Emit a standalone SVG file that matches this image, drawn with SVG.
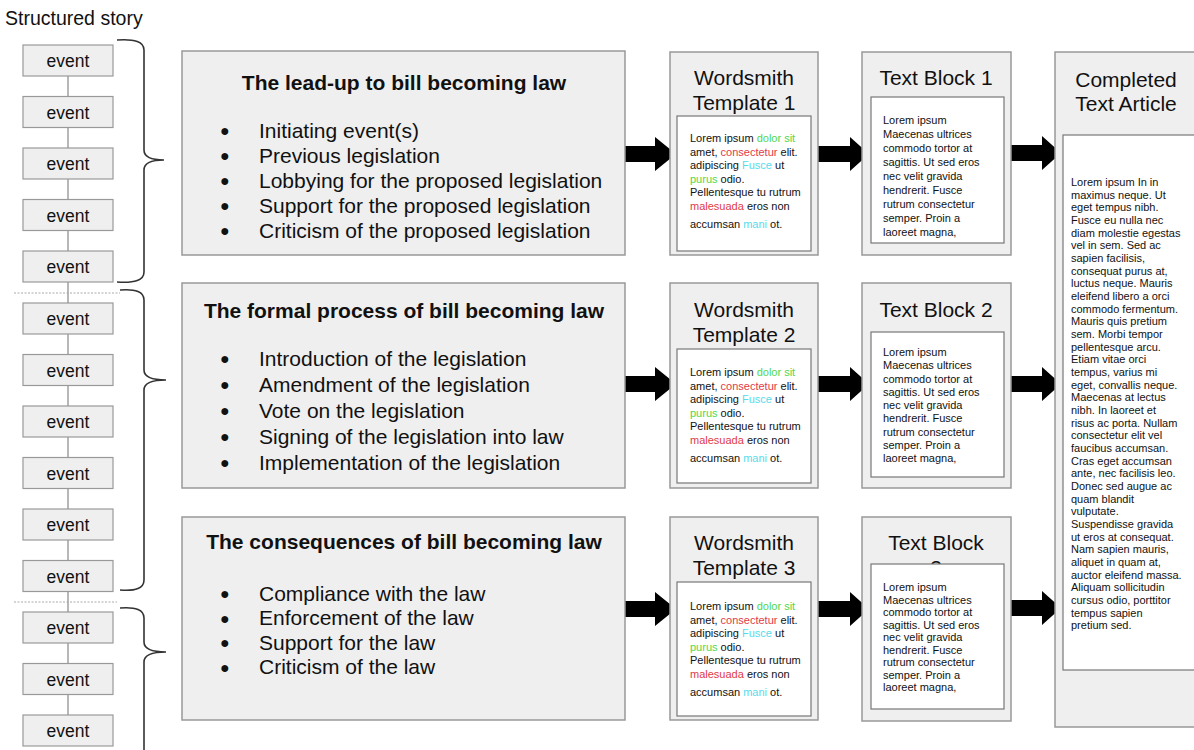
<svg xmlns="http://www.w3.org/2000/svg" width="1194" height="750" viewBox="0 0 1194 750">
<style>
text{font-family:"Liberation Sans",Arial,sans-serif;fill:#111}
.box{fill:#efefef;stroke:#999;stroke-width:1.5}
.inner{fill:#fff;stroke:#777;stroke-width:1.2}
.ev{fill:#efefef;stroke:#999;stroke-width:1.2}
.evt{font-size:17.5px;text-anchor:middle}
.ttl{font-size:21px;font-weight:bold;text-anchor:middle}
.item{font-size:21px}
.bul{font-size:16px}
.hd{font-size:21px;text-anchor:middle}
.sm{font-size:11px}
.g{fill:#4fd84f}.r{fill:#e23a48}.c{fill:#55dcec}
.brace{fill:none;stroke:#333;stroke-width:1.6}
.link{stroke:#888;stroke-width:1.2}
.dot{stroke:#aaa;stroke-width:1;stroke-dasharray:2 1.5}
.arrow{fill:#000}
</style>
<text x="5" y="25" style="font-size:19.5px">Structured story</text>

<g id="connectors">
<line class="link" x1="68" y1="60" x2="68" y2="730"/>
<line class="dot" x1="14" y1="293" x2="120" y2="293"/>
<line class="dot" x1="14" y1="602" x2="117" y2="602"/>
<path class="brace" d="M117,40 Q144,38 144,50 L144,150 Q144,160 164,160 Q144,160 144,170 L144,272 Q144,284 117,282"/>
<path class="brace" d="M120,290 Q144,288 144,300 L144,370 Q144,380 166,380 Q144,380 144,390 L144,580 Q144,592 120,590"/>
<path class="brace" d="M120,608 Q144,606 144,618 L144,642 Q144,652 166,652 Q144,652 144,662 L144,760"/>
<polygon class="arrow" points="625,146 655,146 655,137 676,154 655,171 655,162 625,162"/>
<polygon class="arrow" points="818,146 850,146 850,137 869,154 850,171 850,162 818,162"/>
<polygon class="arrow" points="1010,145 1042,145 1042,136 1061,153 1042,170 1042,161 1010,161"/>
<polygon class="arrow" points="625,376 655,376 655,367 676,384 655,401 655,392 625,392"/>
<polygon class="arrow" points="818,376 850,376 850,367 869,384 850,401 850,392 818,392"/>
<polygon class="arrow" points="1010,376 1042,376 1042,367 1061,384 1042,401 1042,392 1010,392"/>
<polygon class="arrow" points="625,601 655,601 655,592 676,609 655,626 655,617 625,617"/>
<polygon class="arrow" points="818,601 850,601 850,592 869,609 850,626 850,617 818,617"/>
<polygon class="arrow" points="1010,600 1042,600 1042,591 1061,608 1042,625 1042,616 1010,616"/>
</g>

<g id="events">
<g id="ev1"><rect class="ev" x="23" y="45" width="90" height="31"/><text class="evt" x="68" y="67">event</text></g>
<g id="ev2"><rect class="ev" x="23" y="96.5" width="90" height="31"/><text class="evt" x="68" y="118.5">event</text></g>
<g id="ev3"><rect class="ev" x="23" y="148" width="90" height="31"/><text class="evt" x="68" y="170">event</text></g>
<g id="ev4"><rect class="ev" x="23" y="199.5" width="90" height="31"/><text class="evt" x="68" y="221.5">event</text></g>
<g id="ev5"><rect class="ev" x="23" y="251" width="90" height="31"/><text class="evt" x="68" y="273">event</text></g>
<g id="ev6"><rect class="ev" x="23" y="303" width="90" height="31"/><text class="evt" x="68" y="325">event</text></g>
<g id="ev7"><rect class="ev" x="23" y="354.5" width="90" height="31"/><text class="evt" x="68" y="376.5">event</text></g>
<g id="ev8"><rect class="ev" x="23" y="406" width="90" height="31"/><text class="evt" x="68" y="428">event</text></g>
<g id="ev9"><rect class="ev" x="23" y="457.5" width="90" height="31"/><text class="evt" x="68" y="479.5">event</text></g>
<g id="ev10"><rect class="ev" x="23" y="509" width="90" height="31"/><text class="evt" x="68" y="531">event</text></g>
<g id="ev11"><rect class="ev" x="23" y="560.5" width="90" height="31"/><text class="evt" x="68" y="582.5">event</text></g>
<g id="ev12"><rect class="ev" x="23" y="612" width="90" height="31"/><text class="evt" x="68" y="634">event</text></g>
<g id="ev13"><rect class="ev" x="23" y="663.5" width="90" height="31"/><text class="evt" x="68" y="685.5">event</text></g>
<g id="ev14"><rect class="ev" x="23" y="715" width="90" height="31"/><text class="evt" x="68" y="737">event</text></g>
</g>

<g id="section1">
<rect class="box" x="182" y="51" width="443" height="204"/>
<text class="ttl" x="404" y="90">The lead-up to bill becoming law</text>
<g class="bul">
<text x="220" y="136">●</text><text x="220" y="161">●</text><text x="220" y="186">●</text><text x="220" y="211">●</text><text x="220" y="236">●</text>
</g>
<g class="item">
<text x="259" y="137.5">Initiating event(s)</text>
<text x="259" y="162.5">Previous legislation</text>
<text x="259" y="187.5">Lobbying for the proposed legislation</text>
<text x="259" y="212.5">Support for the proposed legislation</text>
<text x="259" y="237.5">Criticism of the proposed legislation</text>
</g>
</g>

<g id="section2">
<rect class="box" x="182" y="283" width="443" height="205"/>
<text class="ttl" x="404" y="318">The formal process of bill becoming law</text>
<g class="bul">
<text x="220" y="364">●</text><text x="220" y="390">●</text><text x="220" y="416">●</text><text x="220" y="442">●</text><text x="220" y="468">●</text>
</g>
<g class="item">
<text x="259" y="365.5">Introduction of the legislation</text>
<text x="259" y="391.5">Amendment of the legislation</text>
<text x="259" y="417.5">Vote on the legislation</text>
<text x="259" y="443.5">Signing of the legislation into law</text>
<text x="259" y="469.5">Implementation of the legislation</text>
</g>
</g>

<g id="section3">
<rect class="box" x="182" y="517" width="443" height="203"/>
<text class="ttl" x="404" y="549">The consequences of bill becoming law</text>
<g class="bul">
<text x="220" y="599">●</text><text x="220" y="623.5">●</text><text x="220" y="648">●</text><text x="220" y="672.5">●</text>
</g>
<g class="item">
<text x="259" y="600.5">Compliance with the law</text>
<text x="259" y="625">Enforcement of the law</text>
<text x="259" y="649.5">Support for the law</text>
<text x="259" y="674">Criticism of the law</text>
</g>
</g>

<g id="template1">
<rect class="box" x="670" y="52" width="148" height="203"/>
<text class="hd" x="744" y="85">Wordsmith</text>
<text class="hd" x="744" y="110">Template 1</text>
<rect class="inner" x="677" y="116" width="134" height="135"/>
<g class="sm">
<text x="690" y="142">Lorem ipsum <tspan class="g">dolor sit</tspan></text>
<text x="690" y="155.5">amet, <tspan class="r">consectetur</tspan> elit.</text>
<text x="690" y="169">adipiscing <tspan class="c">Fusce</tspan> ut</text>
<text x="690" y="182.5"><tspan class="g">purus</tspan> odio.</text>
<text x="690" y="196">Pellentesque tu rutrum</text>
<text x="690" y="209.5"><tspan class="r">malesuada</tspan> eros non</text>
<text x="690" y="228">accumsan <tspan class="c">mani</tspan> ot.</text>
</g>
</g>

<g id="template2">
<rect class="box" x="670" y="283" width="148" height="205"/>
<text class="hd" x="744" y="317">Wordsmith</text>
<text class="hd" x="744" y="342">Template 2</text>
<rect class="inner" x="677" y="349" width="134" height="134"/>
<g class="sm">
<text x="690" y="376">Lorem ipsum <tspan class="g">dolor sit</tspan></text>
<text x="690" y="389.5">amet, <tspan class="r">consectetur</tspan> elit.</text>
<text x="690" y="403">adipiscing <tspan class="c">Fusce</tspan> ut</text>
<text x="690" y="416.5"><tspan class="g">purus</tspan> odio.</text>
<text x="690" y="430">Pellentesque tu rutrum</text>
<text x="690" y="443.5"><tspan class="r">malesuada</tspan> eros non</text>
<text x="690" y="462">accumsan <tspan class="c">mani</tspan> ot.</text>
</g>
</g>

<g id="template3">
<rect class="box" x="670" y="517" width="148" height="203"/>
<text class="hd" x="744" y="550">Wordsmith</text>
<text class="hd" x="744" y="575">Template 3</text>
<rect class="inner" x="677" y="582" width="134" height="134"/>
<g class="sm">
<text x="690" y="610">Lorem ipsum <tspan class="g">dolor sit</tspan></text>
<text x="690" y="623.5">amet, <tspan class="r">consectetur</tspan> elit.</text>
<text x="690" y="637">adipiscing <tspan class="c">Fusce</tspan> ut</text>
<text x="690" y="650.5"><tspan class="g">purus</tspan> odio.</text>
<text x="690" y="664">Pellentesque tu rutrum</text>
<text x="690" y="677.5"><tspan class="r">malesuada</tspan> eros non</text>
<text x="690" y="696">accumsan <tspan class="c">mani</tspan> ot.</text>
</g>
</g>

<g id="textblock1">
<rect class="box" x="862" y="52" width="149" height="203"/>
<text class="hd" x="936" y="85">Text Block 1</text>
<rect class="inner" x="871" y="97" width="133" height="146"/>
<g class="sm">
<text x="883" y="124">Lorem ipsum</text>
<text x="883" y="138">Maecenas ultrices</text>
<text x="883" y="152">commodo tortor at</text>
<text x="883" y="166">sagittis. Ut sed eros</text>
<text x="883" y="180">nec velit gravida</text>
<text x="883" y="194">hendrerit. Fusce</text>
<text x="883" y="208">rutrum consectetur</text>
<text x="883" y="222">semper. Proin a</text>
<text x="883" y="236">laoreet magna,</text>
</g>
</g>

<g id="textblock2">
<rect class="box" x="862" y="283" width="149" height="205"/>
<text class="hd" x="936" y="317">Text Block 2</text>
<rect class="inner" x="871" y="332" width="133" height="145"/>
<g class="sm">
<text x="883" y="356">Lorem ipsum</text>
<text x="883" y="369.3">Maecenas ultrices</text>
<text x="883" y="382.5">commodo tortor at</text>
<text x="883" y="395.8">sagittis. Ut sed eros</text>
<text x="883" y="409">nec velit gravida</text>
<text x="883" y="422.3">hendrerit. Fusce</text>
<text x="883" y="435.5">rutrum consectetur</text>
<text x="883" y="448.8">semper. Proin a</text>
<text x="883" y="462">laoreet magna,</text>
</g>
</g>

<g id="textblock3">
<rect class="box" x="862" y="517" width="149" height="204"/>
<text class="hd" x="936" y="550">Text Block</text>
<text class="hd" x="936" y="575">3</text>
<rect class="inner" x="871" y="564" width="133" height="145"/>
<g class="sm">
<text x="883" y="591">Lorem ipsum</text>
<text x="883" y="603.5">Maecenas ultrices</text>
<text x="883" y="616">commodo tortor at</text>
<text x="883" y="628.5">sagittis. Ut sed eros</text>
<text x="883" y="641">nec velit gravida</text>
<text x="883" y="653.5">hendrerit. Fusce</text>
<text x="883" y="666">rutrum consectetur</text>
<text x="883" y="678.5">semper. Proin a</text>
<text x="883" y="691">laoreet magna,</text>
</g>
</g>

<g id="article">
<rect class="box" x="1055" y="52" width="200" height="675"/>
<text class="hd" x="1126" y="87">Completed</text>
<text class="hd" x="1126" y="111">Text Article</text>
<rect class="inner" x="1063" y="135" width="200" height="535"/>
<g class="sm">
<text x="1071" y="186">Lorem ipsum In in</text>
<text x="1071" y="198.7">maximus neque. Ut</text>
<text x="1071" y="211.3">eget tempus nibh.</text>
<text x="1071" y="224">Fusce eu nulla nec</text>
<text x="1071" y="236.6">diam molestie egestas</text>
<text x="1071" y="249.3">vel in sem. Sed ac</text>
<text x="1071" y="262">sapien facilisis,</text>
<text x="1071" y="274.6">consequat purus at,</text>
<text x="1071" y="287.3">luctus neque. Mauris</text>
<text x="1071" y="300">eleifend libero a orci</text>
<text x="1071" y="312.6">commodo fermentum.</text>
<text x="1071" y="325.3">Mauris quis pretium</text>
<text x="1071" y="338">sem. Morbi tempor</text>
<text x="1071" y="350.6">pellentesque arcu.</text>
<text x="1071" y="363.3">Etiam vitae orci</text>
<text x="1071" y="376">tempus, varius mi</text>
<text x="1071" y="388.6">eget, convallis neque.</text>
<text x="1071" y="401.3">Maecenas at lectus</text>
<text x="1071" y="414">nibh. In laoreet et</text>
<text x="1071" y="426.6">risus ac porta. Nullam</text>
<text x="1071" y="439.3">consectetur elit vel</text>
<text x="1071" y="452">faucibus accumsan.</text>
<text x="1071" y="464.6">Cras eget accumsan</text>
<text x="1071" y="477.3">ante, nec facilisis leo.</text>
<text x="1071" y="490">Donec sed augue ac</text>
<text x="1071" y="502.6">quam blandit</text>
<text x="1071" y="515.3">vulputate.</text>
<text x="1071" y="528">Suspendisse gravida</text>
<text x="1071" y="540.6">ut eros at consequat.</text>
<text x="1071" y="553.3">Nam sapien mauris,</text>
<text x="1071" y="566">aliquet in quam at,</text>
<text x="1071" y="578.6">auctor eleifend massa.</text>
<text x="1071" y="591.3">Aliquam sollicitudin</text>
<text x="1071" y="604">cursus odio, porttitor</text>
<text x="1071" y="616.6">tempus sapien</text>
<text x="1071" y="629.3">pretium sed.</text>
</g>
</g>
</svg>
